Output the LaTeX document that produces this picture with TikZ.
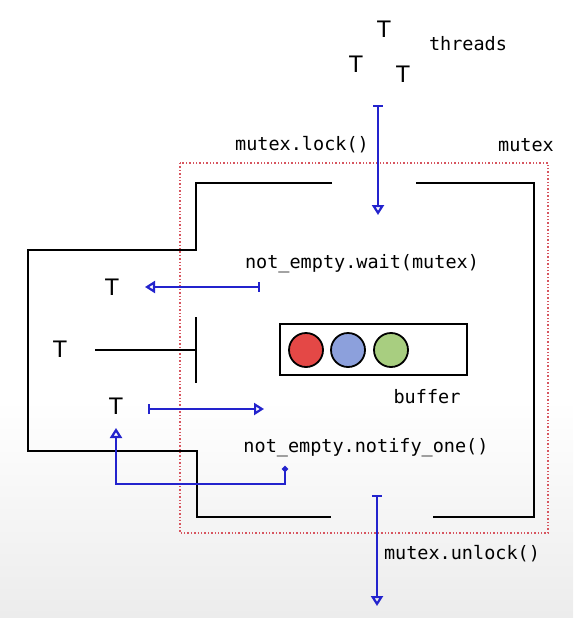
\documentclass[tikz,border=0pt]{standalone}
\usepackage{fontspec}
\setmonofont{DejaVu Sans Mono}
\newfontfamily\thrfont{Liberation Sans}
\usetikzlibrary{arrows.meta}
\definecolor{flow}{RGB}{35,35,205}
\definecolor{mutexred}{RGB}{215,85,95}
\definecolor{ballred}{RGB}{228,72,70}
\definecolor{ballblue}{RGB}{140,160,220}
\definecolor{ballgreen}{RGB}{168,206,128}
\tikzset{
  thr/.style={font=\thrfont\fontsize{24}{28}\selectfont, inner sep=0pt},
  code/.style={font=\ttfamily\fontsize{18.5}{22}\selectfont, inner sep=0pt},
  wall/.style={line width=2.2pt, black},
  flowline/.style={flow, line width=2.2pt},
  ball/.style={circle, draw, line width=1.8pt, minimum size=34pt, inner sep=0pt},
}

\begin{document}
\begin{tikzpicture}[x=1pt,y=-1pt]
  \useasboundingbox (0,0) rectangle (573,618);
  \fill[white] (0,0) rectangle (573,618);
  \shade[top color=white, bottom color=gray!15] (0,400) rectangle (573,618);

  % waiting threads
  \node[thr] (t1) at (384,29) {T};
  \node[thr] (t2) at (356,64) {T};
  \node[thr] (t3) at (403,74) {T};
  \node[code] (threads) at (468,44) {threads};

  % the mutex region
  \draw[mutexred, dotted, line width=1.4pt] (180,163) rectangle (548,533);
  \node[code] (mtx) at (526,145) {mutex};
  \node[code] (lock) at (302,145) {mutex.lock()};

  % walls of the room
  \draw[wall] (332,183) -- (196,183) -- (196,250) -- (28,250) -- (28,451) -- (197,451) -- (197,517) -- (331,517);
  \draw[wall] (416,183) -- (534,183) -- (534,517) -- (433,517);
  \draw[wall] (196,317) -- (196,383);
  \coordinate (gate) at (196,350);

  % threads inside
  \node[thr] (tw) at (112,287) {T};
  \node[thr] (tb) at (60,349) {T};
  \node[thr] (tn) at (116,406) {T};
  \draw[line width=1.8pt] (95,350) -- (gate);

  % buffer
  \node[draw, line width=2.2pt, minimum width=187pt, minimum height=51pt, inner sep=0pt] (buf) at (373.5,349.5) {};
  \node[ball, fill=ballred] (b1) at (306,350) {};
  \node[ball, fill=ballblue] (b2) at (348,350) {};
  \node[ball, fill=ballgreen] (b3) at (391,350) {};
  \node[code] (buflabel) at (427,397) {buffer};

  \node[code] (wait) at (362,264) {not\_empty.wait(mutex)};
  \node[code] (notify) at (366,448) {not\_empty.notify\_one()};
  \node[code] (unlock) at (462,554) {mutex.unlock()};

  % arrows
  \coordinate (lockA) at (378,105);
  \coordinate (lockB) at (378,215);
  \draw[flowline, {Bar[width=10pt]}-{Triangle[open,length=10pt,width=12pt]}] (lockA) -- (lockB);

  \coordinate (waitA) at (260,287);
  \coordinate (waitB) at (145,287);
  \draw[flowline, {Bar[width=10pt]}-{Triangle[open,length=10pt,width=12pt]}] (waitA) -- (waitB);

  \coordinate (goA) at (148,409);
  \coordinate (goB) at (264,409);
  \draw[flowline, {Bar[width=10pt]}-{Triangle[open,length=10pt,width=12pt]}] (goA) -- (goB);

  \coordinate (sigA) at (285,466);
  \coordinate (sigB) at (116,428);
  \draw[flowline, {Circle[length=6pt]}-{Triangle[open,length=10pt,width=12pt]}] (sigA) -- (285,484) -| (sigB);

  \coordinate (unlockA) at (377,495);
  \coordinate (unlockB) at (377,606);
  \draw[flowline, {Bar[width=10pt]}-{Triangle[open,length=10pt,width=12pt]}] (unlockA) -- (unlockB);
\end{tikzpicture}
\end{document}
